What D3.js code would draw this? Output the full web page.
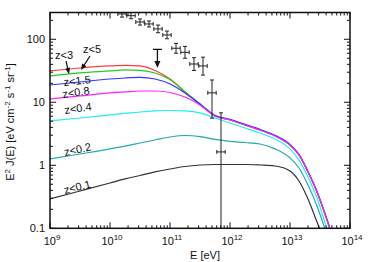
<!DOCTYPE html>
<html>
<head>
<meta charset="utf-8">
<script src="https://cdn.jsdelivr.net/npm/d3@7"></script>
<style>
  body { margin: 0; background: #fff; }
  text { font-family: "Liberation Sans", Arial, sans-serif; fill: #111; }
</style>
</head>
<body>
<script>
// log10(E / eV) grid for the model curves
const logE = [9.0, 9.5, 10.0, 10.25, 10.5, 10.75, 11.0, 11.25, 11.5, 11.75, 12.0, 12.25, 12.5, 12.75, 13.0, 13.15, 13.3, 13.45, 13.6, 13.75];

// E^2 J(E) [eV cm^-2 s^-1 sr^-1] for each redshift cut
const zLt5  = [31.4, 35.0, 37.7, 38.4, 37.7, 32.0, 23.4, 14.6, 9.40, 6.06, 5.24, 4.36, 3.63, 2.92, 2.10, 1.46, 0.784, 0.377, 0.151, 0.0543];
const zLt3  = [26.1, 29.2, 31.4, 32.6, 32.0, 29.2, 23.0, 14.6, 9.40, 6.06, 5.24, 4.36, 3.63, 2.92, 2.10, 1.46, 0.784, 0.377, 0.151, 0.0543];
const zLt15 = [18.8, 21.0, 23.4, 24.3, 24.8, 23.4, 19.5, 14.1, 9.40, 6.20, 5.36, 4.46, 3.72, 2.99, 2.15, 1.49, 0.800, 0.385, 0.154, 0.0555];
const zLt08 = [11.3, 12.6, 14.1, 14.6, 15.1, 15.1, 14.3, 12.1, 9.06, 6.06, 5.24, 4.36, 3.63, 2.92, 2.10, 1.46, 0.784, 0.377, 0.151, 0.0543];
const zLt04 = [5.05, 5.63, 6.29, 6.64, 7.01, 7.28, 7.41, 7.28, 6.77, 5.63, 4.69, 3.91, 3.26, 2.61, 1.82, 1.21, 0.652, 0.303, 0.109, 0.0406];
const zLt02 = [1.26, 1.51, 1.82, 2.02, 2.26, 2.52, 2.81, 2.97, 2.86, 2.57, 2.39, 2.30, 2.18, 1.82, 1.31, 0.906, 0.486, 0.226, 0.0874, 0.032];
const zLt01 = [0.292, 0.391, 0.524, 0.607, 0.689, 0.784, 0.873, 0.957, 1.01, 1.03, 1.03, 1.03, 1.01, 0.975, 0.813, 0.564, 0.292, 0.126, 0.0543, 0.023];

// measured points (log10 E, value, lower, upper)
const ptLogE = [10.2, 10.35, 10.5, 10.65, 10.8, 10.95, 11.1, 11.25, 11.4, 11.55, 11.7, 11.85];
const ptVal  = [252, 237, 188, 175, 146, 117, 72, 62, 40.5, 37.7, 14.1, 1.63];
const ptLo   = [225, 212, 168, 157, 127, 102, 60, 50, 32, 27, 5.6, 0.05];
const ptHi   = [281, 265, 210, 195, 168, 135, 86, 77, 51, 52, 22.6, 6.8];

// upper limit
const ulLogE = 10.79, ulVal = 69, ulTo = 35;

const xTicks = [9, 10, 11, 12, 13, 14];
const yTicks = [0.1, 1, 10, 100];
const yTickLabels = ["0.1", "1", "10", "100"];

const width = 374, height = 262;
const pL = 50, pR = 350, pT = 12.5, pB = 228.3;

const svg = d3.select("body").append("svg")
  .attr("width", width)
  .attr("height", height);

const x = d3.scaleLog().domain([1e9, 1e14]).range([pL, pR]);
const y = d3.scaleLog().domain([0.1, 266]).range([pB, pT]);

svg.append("clipPath").attr("id", "plot")
  .append("rect")
  .attr("x", pL).attr("y", pT)
  .attr("width", pR - pL).attr("height", pB - pT);

const g = svg.append("g").attr("clip-path", "url(#plot)");

const series = [
  {name: "z<5", values: zLt5, color: "#ff3b3b"},
  {name: "z<3", values: zLt3, color: "#22cc22"},
  {name: "z<1.5", values: zLt15, color: "#3333ff"},
  {name: "z<0.8", values: zLt08, color: "#ff22ff"},
  {name: "z<0.4", values: zLt04, color: "#22eeee"},
  {name: "z<0.2", values: zLt02, color: "#22aaaa"},
  {name: "z<0.1", values: zLt01, color: "#333333"},
];

const line = d3.line()
  .x((d, i) => x(10 ** logE[i]))
  .y((d) => y(d))
  .curve(d3.curveMonotoneX);

g.selectAll("path.curve")
  .data(series)
  .join("path")
  .attr("class", "curve")
  .attr("d", (d) => line(d.values))
  .attr("fill", "none")
  .attr("stroke", (d) => d.color)
  .attr("stroke-width", 1.2);

// error bars
const pts = ptLogE.map((e, i) => ({e, v: ptVal[i], lo: ptLo[i], hi: ptHi[i]}));
const dE = 0.07;
const eb = g.selectAll("g.pt").data(pts).join("g").attr("class", "pt")
  .attr("stroke", "#222").attr("stroke-width", 1);
eb.append("line")
  .attr("x1", (d) => x(10 ** d.e)).attr("x2", (d) => x(10 ** d.e))
  .attr("y1", (d) => y(d.lo)).attr("y2", (d) => y(d.hi));
eb.append("line")
  .attr("x1", (d) => x(10 ** (d.e - dE))).attr("x2", (d) => x(10 ** (d.e + dE)))
  .attr("y1", (d) => y(d.v)).attr("y2", (d) => y(d.v));
// caps
eb.append("path")
  .attr("fill", "none")
  .attr("d", (d) => {
    const cx = x(10 ** d.e), yl = y(d.lo), yh = y(d.hi);
    const xl = x(10 ** (d.e - dE)), xr = x(10 ** (d.e + dE)), cy = y(d.v);
    return `M${cx - 2},${yl}H${cx + 2}M${cx - 2},${yh}H${cx + 2}` +
      `M${xl},${cy - 2}V${cy + 2}M${xr},${cy - 2}V${cy + 2}`;
  });

// upper limit arrow
const ux = x(10 ** ulLogE);
g.append("line")
  .attr("x1", x(10 ** (ulLogE - 0.075))).attr("x2", x(10 ** (ulLogE + 0.075)))
  .attr("y1", y(ulVal)).attr("y2", y(ulVal))
  .attr("stroke", "#111").attr("stroke-width", 1.3);
g.append("line")
  .attr("x1", ux).attr("x2", ux)
  .attr("y1", y(ulVal)).attr("y2", y(ulTo) - 5)
  .attr("stroke", "#111").attr("stroke-width", 1.3);
g.append("path")
  .attr("d", `M${ux - 3},${y(ulTo) - 7}L${ux + 3},${y(ulTo) - 7}L${ux},${y(ulTo)}Z`)
  .attr("fill", "#111");

// frame and ticks
const ax = svg.append("g").attr("stroke", "#111");
ax.append("rect")
  .attr("x", pL).attr("y", pT)
  .attr("width", pR - pL).attr("height", pB - pT)
  .attr("fill", "none").attr("stroke-width", 1.5);

const xMinor = [], yMinor = [];
for (let p = 9; p < 14; p++) for (let k = 2; k <= 9; k++) xMinor.push(k * 10 ** p);
for (let p = -1; p < 3; p++) for (let k = 2; k <= 9; k++) if (k * 10 ** p <= 266) yMinor.push(k * 10 ** p);

function xt(vals, len) {
  ax.selectAll(null).data(vals).join("path")
    .attr("d", (d) => `M${x(d)},${pB}v${-len}M${x(d)},${pT}v${len}`)
    .attr("stroke-width", 1);
}
function yt(vals, len) {
  ax.selectAll(null).data(vals).join("path")
    .attr("d", (d) => `M${pL},${y(d)}h${len}M${pR},${y(d)}h${-len}`)
    .attr("stroke-width", 1);
}
xt(xTicks.map((p) => 10 ** p), 6);
xt(xMinor, 3);
yt(yTicks, 6);
yt(yMinor, 3);

// tick labels
const xl = svg.selectAll("text.xl").data(xTicks).join("text")
  .attr("class", "xl")
  .attr("x", (d) => x(10 ** d) + 2)
  .attr("y", 245)
  .attr("text-anchor", "middle")
  .attr("font-size", 11);
xl.append("tspan").text("10");
xl.append("tspan").attr("dy", -5).attr("font-size", 8).text((d) => d);

svg.selectAll("text.yl").data(yTicks).join("text")
  .attr("class", "yl")
  .attr("x", 45)
  .attr("y", (d) => y(d) + 4)
  .attr("text-anchor", "end")
  .attr("font-size", 11)
  .text((d, i) => yTickLabels[i]);

// axis titles
svg.append("text")
  .attr("x", 205).attr("y", 259)
  .attr("text-anchor", "middle")
  .attr("font-size", 11)
  .text("E  [eV]");

const yTitle = svg.append("text")
  .attr("transform", "translate(14,122) rotate(-90)")
  .attr("text-anchor", "middle")
  .attr("font-size", 11);
[["E", 0], ["2", -4], [" J(E)  [eV cm", 4], ["-2", -4], [" s", 4], ["-1", -4], [" sr", 4], ["-1", -4], ["]", 4]]
  .forEach(([t, dy]) => {
    yTitle.append("tspan")
      .attr("dy", dy)
      .attr("font-size", dy < 0 ? 8 : 11)
      .text(t);
  });

// curve labels
const labels = [
  {t: "z<3", x: 55, y: 59, r: 0},
  {t: "z<5", x: 83, y: 53, r: 0},
  {t: "z<1.5", x: 64, y: 86, r: -6},
  {t: "z<0.8", x: 63, y: 98, r: -8},
  {t: "z<0.4", x: 65, y: 114, r: -8},
  {t: "z<0.2", x: 65, y: 156, r: -12},
  {t: "z<0.1", x: 65, y: 194, r: -14},
];
svg.selectAll("text.lab").data(labels).join("text")
  .attr("class", "lab")
  .attr("transform", (d) => `translate(${d.x},${d.y}) rotate(${d.r})`)
  .attr("font-size", 11)
  .text((d) => d.t);

// arrows for z<3 and z<5
const arrows = [[66, 61, 69, 74], [90, 56, 81, 70]];
arrows.forEach(([x1, y1, x2, y2]) => {
  const a = Math.atan2(y2 - y1, x2 - x1);
  svg.append("line")
    .attr("x1", x1).attr("y1", y1)
    .attr("x2", x2 - 4 * Math.cos(a)).attr("y2", y2 - 4 * Math.sin(a))
    .attr("stroke", "#111").attr("stroke-width", 1.2);
  const bx = x2 - 6 * Math.cos(a), by = y2 - 6 * Math.sin(a);
  const px = -Math.sin(a) * 2.5, py = Math.cos(a) * 2.5;
  svg.append("path")
    .attr("d", `M${x2},${y2}L${bx + px},${by + py}L${bx - px},${by - py}Z`)
    .attr("fill", "#111");
});
</script>
</body>
</html>
